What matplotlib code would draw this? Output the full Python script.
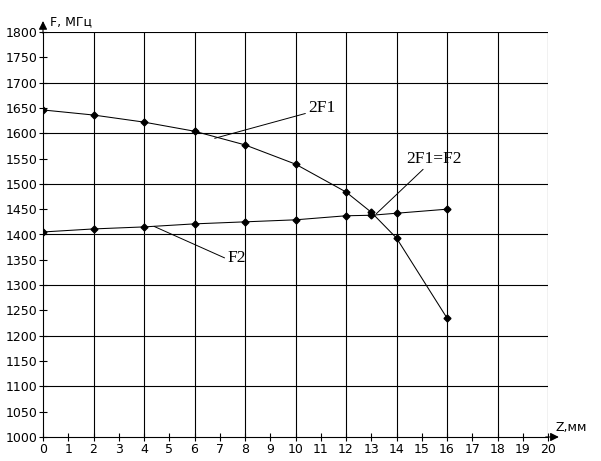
import matplotlib.pyplot as plt
import numpy as np

z = [0, 2, 4, 6, 8, 10, 12, 13, 14, 16]
f_2f1 = [1646, 1636, 1622, 1604, 1577, 1539, 1484, 1444, 1393, 1235]
f_f2 = [1405, 1411, 1415, 1421, 1425, 1429, 1437, 1438, 1442, 1450]

fig = plt.figure(figsize=(6.01, 4.61), dpi=100)
W, H = 601, 461
ax = fig.add_axes([43 / W, (H - 437) / H, 505 / W, 405 / H])

ax.plot(z, f_2f1, color='black', lw=0.75, marker='D', markersize=3.5)
ax.plot(z, f_f2, color='black', lw=0.75, marker='D', markersize=3.5)

ax.set_xlim(0, 20)
ax.set_ylim(1000, 1800)
ax.set_xticks(np.arange(0, 21, 1))
ax.set_yticks(np.arange(1000, 1801, 50))
ax.grid(False)
for xv in range(2, 21, 2):
    ax.axvline(xv, color='black', lw=0.8)
for yv in range(1100, 1801, 100):
    ax.axhline(yv, color='black', lw=0.8)

for s in ['top', 'right']:
    ax.spines[s].set_visible(False)
for s in ['left', 'bottom']:
    ax.spines[s].set_linewidth(0.8)
ax.tick_params(direction='inout', length=6, width=0.8, labelsize=9, pad=1)

# axis arrows
ax.annotate('', xy=(0, 1.034), xytext=(0, 0.99), xycoords='axes fraction',
            arrowprops=dict(arrowstyle='-|>,head_length=0.5,head_width=0.25', color='black', lw=0.8))
ax.annotate('', xy=(1.027, 0), xytext=(0.99, 0), xycoords='axes fraction',
            arrowprops=dict(arrowstyle='-|>,head_length=0.5,head_width=0.25', color='black', lw=0.8))
fig.text(50 / W, 1 - 22 / H, 'F, МГц', fontsize=9, va='center', ha='left')
fig.text(555 / W, 1 - 427 / H, 'Z,мм', fontsize=9, va='center', ha='left')

# annotations
ax.annotate('2F1', xy=(6.8, 1590), xytext=(10.5, 1650), fontsize=12.5,
            family='Liberation Serif', va='center', ha='left',
            arrowprops=dict(arrowstyle='-', color='black', lw=0.7, shrinkA=0, shrinkB=0,
                            relpos=(0, 0.2)))
ax.annotate('2F1=F2', xy=(13.2, 1441), xytext=(14.4, 1550), fontsize=12.5,
            family='Liberation Serif', va='center', ha='left',
            arrowprops=dict(arrowstyle='-', color='black', lw=0.7, shrinkA=0, shrinkB=0,
                            relpos=(0.35, 0)))
ax.annotate('F2', xy=(4.4, 1416), xytext=(7.3, 1353), fontsize=12.5,
            family='Liberation Serif', va='center', ha='left',
            arrowprops=dict(arrowstyle='-', color='black', lw=0.7, shrinkA=0, shrinkB=0,
                            relpos=(-0.1, 0.5)))

plt.savefig('out.png', dpi=100)
